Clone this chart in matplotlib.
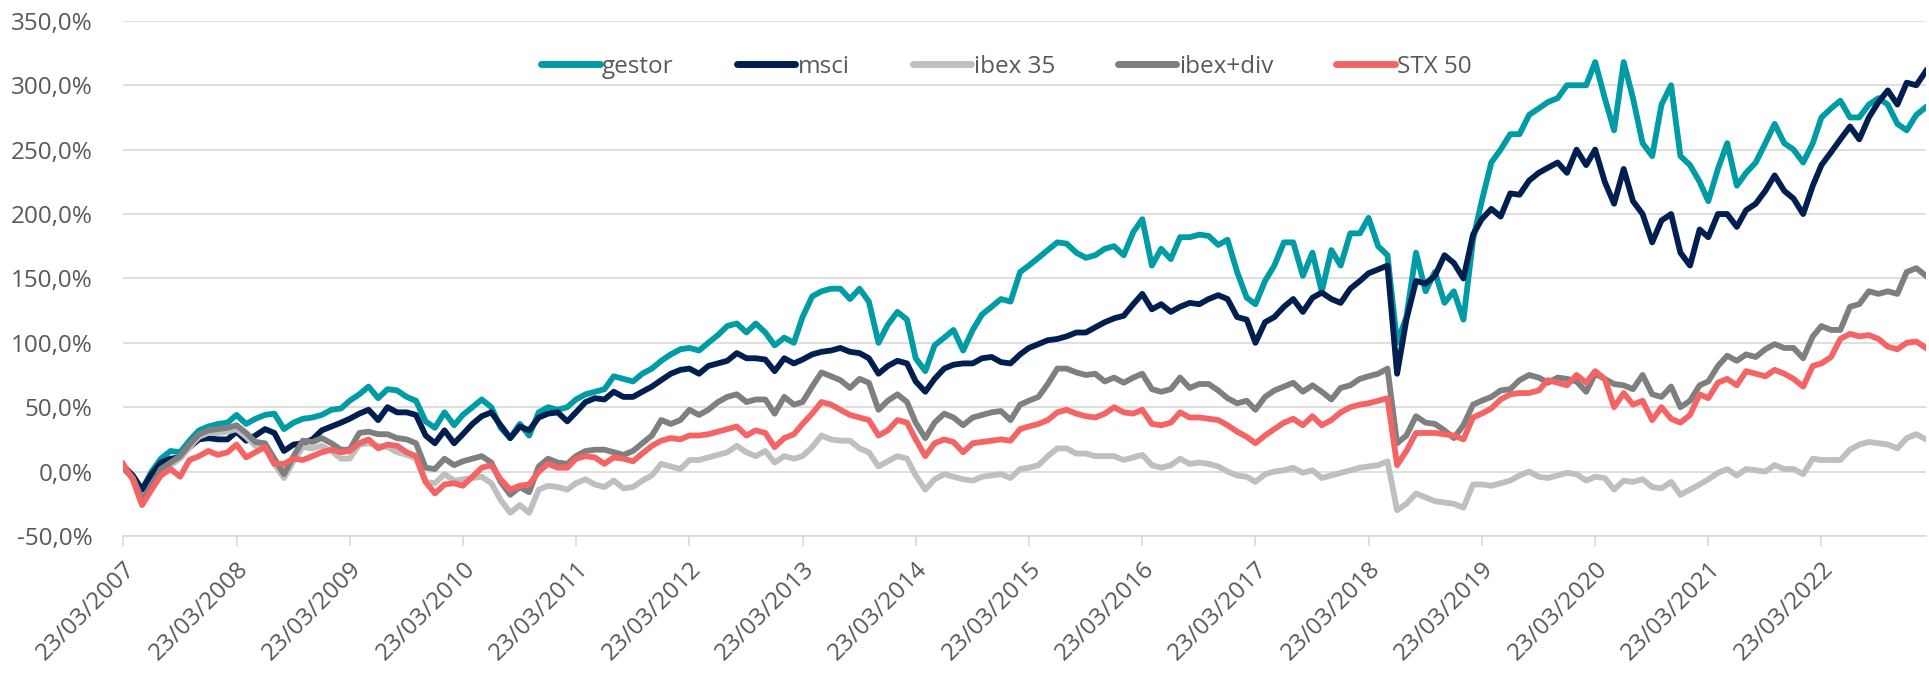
import numpy as np
import pandas as pd
import matplotlib
matplotlib.use("Agg")
import matplotlib.pyplot as plt
import matplotlib.dates as mdates
from matplotlib.ticker import FuncFormatter

plt.rcParams['font.family'] = ['Open Sans', 'DejaVu Sans']

# monthly readings, starting 23/03/2007
start_date = '2007-03-23'

gestor = [5, -3, -14, 0, 10, 16, 15, 24, 32, 35, 37, 38, 44, 37, 41, 44, 45, 33, 38, 41,
          42, 44, 48, 49, 55, 60, 66, 57, 64, 63, 58, 55, 39, 34, 46, 36, 44, 50, 56, 50,
          34, 26, 37, 28, 46, 50, 48, 50, 56, 60, 62,
          64, 74, 72, 70, 76, 80, 86, 91, 95, 96, 94, 100, 106, 113, 115, 108, 115, 108, 98, 104,
          100, 120, 136, 140, 142, 142, 134, 142, 132, 100, 114, 124, 118, 88, 78, 98, 104, 110,
          94, 110, 122, 128, 134, 132, 155, 160, 166, 172, 178,
          177, 170, 166, 168, 173, 175, 168, 186, 196, 160, 173, 165, 182, 182, 184, 183, 176, 180,
          155, 135, 130, 148, 160, 178, 178, 152, 170, 140, 172, 160, 185, 185, 197, 175, 168,
          100, 120, 170, 140, 155, 131, 140, 118, 180,
          210, 240, 250, 262, 262, 277, 282, 287, 290, 300, 300, 300, 318, 290, 265, 318, 290, 255,
          245, 285, 300, 245, 238, 225, 210, 235, 255, 222, 232, 240, 255, 270, 255, 250, 240, 255,
          275, 282, 288, 275, 275, 285, 290, 285, 270, 265, 277, 283]

msci = [4, -3, -14, -2, 7, 10, 11, 19, 25, 26, 25, 25, 31, 24, 28, 33, 30, 16, 21, 22,
        25, 32, 35, 38, 41, 45, 48, 40, 50, 46, 46, 44, 28, 22, 32, 22, 29, 37, 43, 46,
        36, 26, 35, 32, 42, 45, 46, 39, 46, 54, 57,
        56, 62, 58, 58, 62, 66, 71, 76, 79, 80, 76, 82, 84, 86, 92, 88, 88, 87, 78, 88,
        84, 87, 91, 93, 94, 96, 93, 92, 88, 76, 82, 86, 84, 70, 62, 72, 80, 83, 84, 84,
        88, 89, 85, 84, 91, 96, 99, 102, 103,
        105, 108, 108, 112, 116, 119, 121, 130, 138, 126, 130, 124, 128, 131, 130, 134, 137, 134,
        120, 118, 100, 116, 120, 128, 134, 124, 135, 139, 134, 131, 142, 148, 154, 157, 160,
        76, 118, 148, 146, 152, 168, 162, 150, 184,
        196, 204, 198, 216, 215, 226, 232, 236, 240, 232, 250, 238, 250, 225, 208, 235, 210, 200,
        178, 195, 200, 170, 160, 188, 182, 200, 200, 190, 203, 208, 218, 230, 218, 212, 200, 222,
        238, 248, 258, 268, 258, 275, 287, 296, 285, 302, 300, 311]

ibex35 = [3, -5, -22, -12, 0, 5, 10, 19, 27, 30, 30, 31, 33, 27, 20, 18, 6, -5, 8, 19,
          18, 20, 16, 10, 10, 21, 22, 20, 19, 15, 13, 10, -8, -9, -2, -7, -6, -5, -4, -9,
          -22, -32, -26, -32, -14, -11, -12, -14, -9, -6, -10,
          -12, -7, -13, -12, -7, -3, 6, 4, 2, 9, 9, 11, 13, 15, 20, 15, 12, 16, 7, 12,
          10, 12, 19, 28, 25, 24, 24, 18, 15, 4, 8, 12, 10, -3, -14, -6, -2, -4, -6, -7,
          -4, -3, -2, -5, 2, 3, 5, 12, 18,
          18, 14, 14, 12, 12, 12, 9, 11, 13, 5, 3, 5, 10, 6, 7, 6, 4, 0,
          -3, -4, -8, -2, 0, 1, 3, -1, 1, -5, -3, -1, 1, 3, 4, 5, 8,
          -30, -25, -17, -20, -23, -24, -25, -28, -10,
          -10, -11, -9, -7, -3, 0, -4, -5, -3, -1, -2, -7, -4, -5, -14, -7, -8, -6,
          -12, -13, -8, -18, -14, -10, -6, -1, 2, -3, 2, 1, 0, 5, 2, 2, -2, 10,
          9, 9, 9, 17, 21, 23, 22, 21, 18, 26, 29, 25]

ibex_div = [3, -5, -22, -11, 2, 7, 12, 21, 29, 32, 33, 34, 36, 30, 23, 22, 10, -2, 12, 24,
            23, 26, 22, 17, 17, 30, 31, 29, 29, 26, 25, 22, 3, 2, 10, 5, 8, 10, 12, 7,
            -8, -18, -12, -16, 4, 10, 7, 6, 12, 16, 17,
            17, 15, 13, 16, 22, 28, 40, 37, 40, 48, 44, 48, 54, 58, 60, 54, 56, 56, 45, 58,
            52, 54, 66, 77, 74, 71, 65, 72, 69, 48, 55, 60, 54, 38, 26, 38, 45, 42, 36, 42,
            44, 46, 47, 40, 52, 55, 58, 68, 80,
            80, 77, 75, 76, 70, 73, 69, 73, 76, 64, 62, 64, 73, 65, 68, 68, 63, 57,
            53, 55, 48, 58, 63, 66, 69, 62, 67, 62, 56, 65, 67, 72, 74, 76, 80,
            22, 28, 43, 38, 37, 32, 26, 36, 52,
            55, 58, 63, 64, 71, 75, 73, 69, 73, 72, 70, 62, 76, 72, 68, 67, 64, 75,
            60, 58, 66, 50, 55, 67, 70, 82, 90, 86, 91, 89, 95, 99, 96, 96, 88, 105,
            113, 110, 110, 128, 130, 140, 138, 140, 138, 155, 158, 152]

stx50 = [6, -6, -26, -14, -3, 2, -4, 9, 12, 16, 13, 15, 21, 11, 15, 19, 6, 6, 10, 9,
         12, 15, 17, 15, 16, 22, 25, 18, 21, 20, 15, 12, -8, -17, -10, -9, -11, -4, 3, 5,
         -6, -14, -11, -10, 0, 6, 3, 3, 10, 12, 11,
         6, 11, 10, 8, 14, 20, 24, 26, 25, 28, 28, 29, 31, 33, 35, 28, 32, 30, 19, 26,
         29, 37, 45, 54, 52, 48, 44, 42, 40, 28, 32, 40, 38, 25, 12, 22, 25, 23, 15, 22,
         23, 24, 25, 24, 33, 35, 37, 40, 46,
         48, 45, 43, 42, 45, 50, 46, 45, 48, 37, 36, 38, 46, 42, 42, 41, 40, 36,
         31, 27, 22, 28, 33, 38, 41, 36, 43, 36, 40, 46, 50, 52, 53, 55, 57,
         5, 16, 30, 30, 30, 29, 28, 25, 42,
         45, 49, 56, 60, 61, 61, 63, 71, 69, 67, 75, 69, 78, 72, 50, 61, 52, 55,
         40, 50, 41, 38, 44, 60, 57, 69, 72, 67, 78, 76, 74, 79, 76, 72, 66, 82,
         84, 89, 103, 107, 105, 106, 103, 97, 95, 100, 101, 96]

names = ['gestor', 'msci', 'ibex 35', 'ibex+div', 'STX 50']
colors = ['#009CA6', '#001E50', '#BFBFBF', '#7F7F7F', '#F46464']
tick_years = list(range(2007, 2023))

dates = pd.date_range(start_date, periods=len(gestor), freq=pd.DateOffset(months=1))

fig = plt.figure(figsize=(19.29, 6.73), dpi=100)
ax = fig.add_axes([0.0638, 0.2036, 0.9346, 0.7654])

for vals, name, col in zip([gestor, msci, ibex35, ibex_div, stx50], names, colors):
    ax.plot(dates, vals, color=col, lw=4.2, label=name, solid_joinstyle='round')

ax.set_ylim(-50, 350)
ax.set_yticks(np.arange(-50, 351, 50))
ax.yaxis.set_major_formatter(FuncFormatter(lambda v, p: f"{v:.1f}%".replace('.', ',')))
ax.grid(axis='y', color='#D9D9D9', lw=1.2)
ax.set_axisbelow(True)

ax.set_xlim(dates[0], dates[-1])
ticks = [pd.Timestamp(f'{y}-03-23') for y in tick_years]
ax.set_xticks(ticks)
ax.xaxis.set_major_formatter(mdates.DateFormatter('%d/%m/%Y'))
plt.setp(ax.get_xticklabels(), rotation=45, ha='right', rotation_mode='anchor')

for s in ['top', 'right', 'left']:
    ax.spines[s].set_visible(False)
ax.spines['bottom'].set_color('#D9D9D9')
ax.spines['bottom'].set_linewidth(1.2)
ax.tick_params(axis='y', length=0, pad=22, labelsize=17.5, labelcolor='#595959')
ax.tick_params(axis='x', length=7, width=1.2, color='#D9D9D9', pad=8,
               labelsize=17.5, labelcolor='#595959')

leg = ax.legend(loc='upper center', bbox_to_anchor=(0.49, 0.977), ncol=5, frameon=False,
                fontsize=17.5, handlelength=2.4, handletextpad=0.1, columnspacing=2.6)
for t in leg.get_texts():
    t.set_color('#595959')
for h in leg.get_lines():
    h.set_linewidth(5)
    h.set_solid_capstyle('round')

fig.savefig('out.png', dpi=100)
